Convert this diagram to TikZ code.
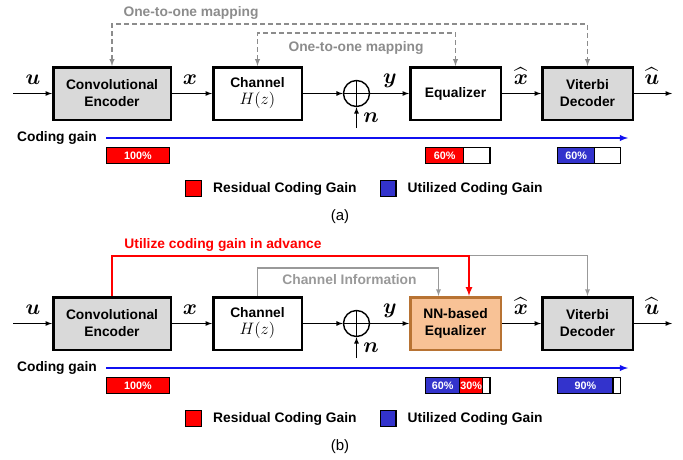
\RequirePackage{fix-cm}
\documentclass[tikz,border=0pt]{standalone}
\usepackage{fontspec}
\setmainfont{Liberation Sans}
\usepackage{amsmath}
\usetikzlibrary{positioning}

\definecolor{boxgray}{HTML}{D9D9D9}
\definecolor{mapgray}{HTML}{8C8C8C}
\definecolor{infogray}{HTML}{999999}
\definecolor{nnfill}{HTML}{F8C296}
\definecolor{nnedge}{HTML}{B87333}
\definecolor{usedblue}{HTML}{3333CC}
\definecolor{gainblue}{HTML}{1010F0}

\begin{document}
\begin{tikzpicture}[x=1pt,y=-1pt,every path/.style={>=latex},
  blk/.style={draw,rectangle,line width=2.5pt,minimum height=52.5pt,inner sep=0pt,align=center,font=\fontsize{13.8}{17}\selectfont\bfseries},
  mth/.style={font=\fontsize{16}{18}\selectfont,inner sep=0pt,scale=1.35},
  sig/.style={line width=1.2pt},
  map/.style={color=mapgray,line width=1.4pt,dash pattern=on 5pt off 3pt},
  info/.style={color=infogray,line width=1.3pt},
  adv/.style={color=red,line width=2pt},
  gain/.style={color=gainblue,line width=1.8pt},
  bar/.style={draw,rectangle,line width=1.3pt,minimum height=15.7pt,inner sep=0pt,outer sep=0pt,text=white,font=\fontsize{10.8}{12}\selectfont\bfseries},
  txt/.style={inner sep=0pt,font=\fontsize{13.8}{17}\selectfont\bfseries},
  sq/.style={draw,rectangle,line width=1.3pt,minimum size=15.7pt,inner sep=0pt}]
\useasboundingbox (0,0) rectangle (683,459);

% (a) conventional receiver
\node[blk,fill=boxgray,minimum width=117.5pt] (enc) at (112,93.5)   {Convolutional\\Encoder};
\node[blk,minimum width=88.5pt]               (chan) at (257.5,93.5) {Channel\\\scalebox{1.2}{$H(z)$}};
\node[circle,draw,line width=1.4pt,minimum size=26pt,inner sep=0pt] (add) at (356.5,93.5) {};
\node[blk,minimum width=90.5pt]               (eq) at (455.5,93.5)   {Equalizer};
\node[blk,fill=boxgray,minimum width=90.5pt]  (vit) at (587.5,93.5)  {Viterbi\\Decoder};
\coordinate (in) at (13,93.5);
\coordinate (out) at (672,93.5);
\coordinate (noise) at (356.5,128);
\draw[line width=1.4pt] (add.north) -- (add.south) (add.west) -- (add.east);

\draw[sig,->] (in) -- (enc);
\draw[sig,->] (enc) -- (chan);
\draw[sig,->] (chan) -- (add);
\draw[sig,->] (add) -- (eq);
\draw[sig,->] (noise) -- (add);
\draw[sig,->] (eq) -- (vit);
\draw[sig,->] (vit) -- (out);

\node[mth] (lu) at (33,80)   {$\boldsymbol{u}$};
\node[mth] (lx) at (190,80)  {$\boldsymbol{x}$};
\node[mth] (ly) at (390,81)  {$\boldsymbol{y}$};
\node[mth] (ln) at (371,118) {$\boldsymbol{n}$};
\node[mth] (lxh) at (521,76) {$\widehat{\boldsymbol{x}}$};
\node[mth] (luh) at (652,76) {$\widehat{\boldsymbol{u}}$};

\draw[map,<->] (enc.north) -- (enc.north |- 0,24) -| (vit.north);
\draw[map,<->] (chan.north) -- (chan.north |- 0,33) -| (eq.north);
\node[txt,text=mapgray] (m1) at (191,13) {One-to-one mapping};
\node[txt,text=mapgray] (m2) at (356,48) {One-to-one mapping};

\node[txt] (cg) at (57,138) {Coding gain};
\coordinate (cga) at (106,138);
\coordinate (cgb) at (628,138);
\draw[gain,->] (cga) -- (cgb);

\node[bar,fill=red,minimum width=63pt] (ba1) at (138,155.5) {100\%};
\node[bar,fill=red,minimum width=38pt,anchor=west] (ba2) at (425.6,155.5) {60\%};
\node[bar,fill=white,minimum width=26.5pt,anchor=west] (ba2w) at (ba2.east) {};
\node[bar,fill=usedblue,minimum width=37pt,anchor=west] (ba3) at (557.6,155.5) {60\%};
\node[bar,fill=white,minimum width=26pt,anchor=west] (ba3w) at (ba3.east) {};

\node[sq,fill=red] (lra) at (193.5,188.5) {};
\node[txt,right=11pt of lra] (lrta) {Residual Coding Gain};
\node[sq,fill=usedblue] (lba) at (388,188.5) {};
\node[txt,right=11pt of lba] (lbta) {Utilized Coding Gain};
\node[inner sep=0pt,font=\fontsize{15}{17}\selectfont] (capa) at (340,217) {(a)};

% (b) NN-based equalizer
\node[blk,fill=boxgray,minimum width=117.5pt] (enc2) at (112,323.5)   {Convolutional\\Encoder};
\node[blk,minimum width=88.5pt]               (chan2) at (257.5,323.5) {Channel\\\scalebox{1.2}{$H(z)$}};
\node[circle,draw,line width=1.4pt,minimum size=26pt,inner sep=0pt] (add2) at (356.5,323.5) {};
\node[blk,fill=nnfill,draw=nnedge,minimum width=90.5pt] (eq2) at (455.5,323.5) {NN-based\\Equalizer};
\node[blk,fill=boxgray,minimum width=90.5pt]  (vit2) at (587.5,323.5)  {Viterbi\\Decoder};
\coordinate (in2) at (13,323.5);
\coordinate (out2) at (672,323.5);
\coordinate (noise2) at (356.5,358);
\draw[line width=1.4pt] (add2.north) -- (add2.south) (add2.west) -- (add2.east);

\draw[sig,->] (in2) -- (enc2);
\draw[sig,->] (enc2) -- (chan2);
\draw[sig,->] (chan2) -- (add2);
\draw[sig,->] (add2) -- (eq2);
\draw[sig,->] (noise2) -- (add2);
\draw[sig,->] (eq2) -- (vit2);
\draw[sig,->] (vit2) -- (out2);

\node[mth] (lu2) at (33,310)   {$\boldsymbol{u}$};
\node[mth] (lx2) at (190,310)  {$\boldsymbol{x}$};
\node[mth] (ly2) at (390,311)  {$\boldsymbol{y}$};
\node[mth] (ln2) at (371,348)  {$\boldsymbol{n}$};
\node[mth] (lxh2) at (521,306) {$\widehat{\boldsymbol{x}}$};
\node[mth] (luh2) at (652,306) {$\widehat{\boldsymbol{u}}$};

\draw[info,->] (enc2.north) -- (enc2.north |- 0,255.5) -| (vit2.north);
\draw[info,->] (chan2.north) -- (chan2.north |- 0,268) -| ([xshift=-17pt]eq2.north);
\draw[adv,->] (enc2.north) -- (enc2.north |- 0,255.5) -| ([xshift=13.5pt]eq2.north);
\node[txt,text=red] (adv) at (223,245) {Utilize coding gain in advance};
\node[txt,text=infogray] (ci) at (349.5,280) {Channel Information};

\node[txt] (cg2) at (57,368) {Coding gain};
\coordinate (cga2) at (106,368);
\coordinate (cgb2) at (628,368);
\draw[gain,->] (cga2) -- (cgb2);

\node[bar,fill=red,minimum width=63pt] (bb1) at (138,385.5) {100\%};
\node[bar,fill=usedblue,minimum width=34pt,anchor=west] (bb2) at (425.6,385.5) {60\%};
\node[bar,fill=red,minimum width=23pt,anchor=west] (bb2r) at (bb2.east) {30\%};
\node[bar,fill=white,minimum width=7.5pt,anchor=west] (bb2w) at (bb2r.east) {};
\node[bar,fill=usedblue,minimum width=55.5pt,anchor=west] (bb3) at (557.6,385.5) {90\%};
\node[bar,fill=white,minimum width=7.5pt,anchor=west] (bb3w) at (bb3.east) {};

\node[sq,fill=red] (lrb) at (193.5,418.5) {};
\node[txt,right=11pt of lrb] (lrtb) {Residual Coding Gain};
\node[sq,fill=usedblue] (lbb) at (388,418.5) {};
\node[txt,right=11pt of lbb] (lbtb) {Utilized Coding Gain};
\node[inner sep=0pt,font=\fontsize{15}{17}\selectfont] (capb) at (340,447) {(b)};
\end{tikzpicture}
\end{document}
